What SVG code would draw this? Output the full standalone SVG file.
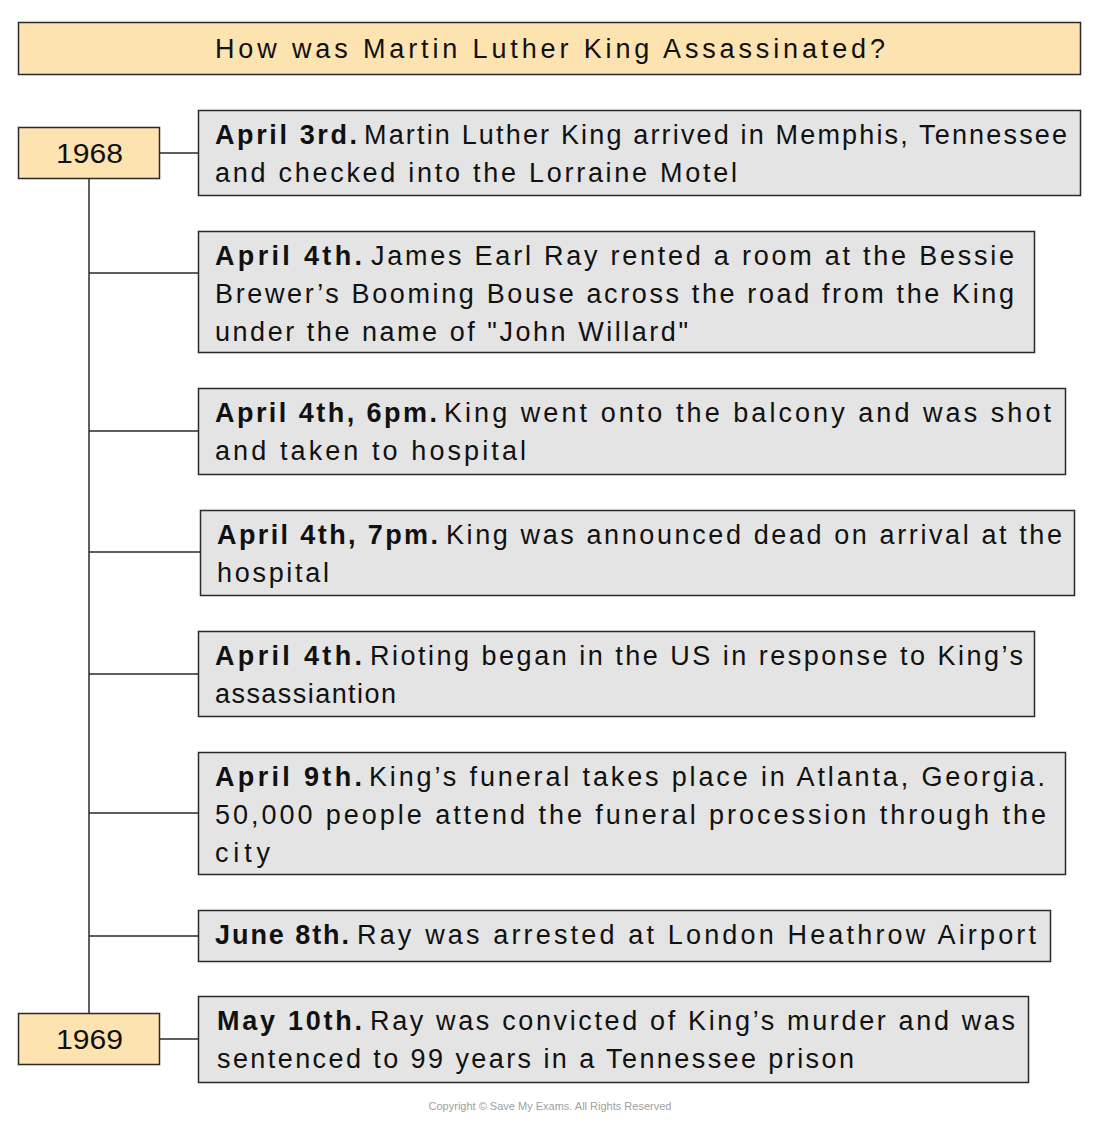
<svg xmlns="http://www.w3.org/2000/svg" width="1100" height="1126" viewBox="0 0 1100 1126">
<style>
.bg{fill:#ffffff}
.hdr{fill:#fde3b0;stroke:#2a2a2a;stroke-width:1.5}
.evt{fill:#e4e4e4;stroke:#2a2a2a;stroke-width:1.5}
.ln{stroke:#2a2a2a;stroke-width:1.5;fill:none}
text{font-family:"Liberation Sans","Noto Sans",sans-serif;fill:#111}
.t{font-size:27px}
.b{font-size:27px;font-weight:bold}
.title{font-size:27px}
.yr{font-size:27px}
.cp{font-size:11px;fill:#a0a0a0}
</style>
<rect class="bg" x="0" y="0" width="1100" height="1126"/>

<g id="title">
<rect class="hdr" x="18.5" y="22.5" width="1062" height="52"/>
<text class="title" x="215" y="58" textLength="670" lengthAdjust="spacing">How was Martin Luther King Assassinated?</text>
</g>

<g id="connectors">
<line class="ln" x1="89" y1="179" x2="89" y2="1013"/>
<line class="ln" x1="160" y1="153" x2="198" y2="153"/>
<line class="ln" x1="89" y1="273" x2="198" y2="273"/>
<line class="ln" x1="89" y1="431" x2="198" y2="431"/>
<line class="ln" x1="89" y1="552" x2="200" y2="552"/>
<line class="ln" x1="89" y1="674" x2="198" y2="674"/>
<line class="ln" x1="89" y1="813" x2="198" y2="813"/>
<line class="ln" x1="89" y1="936" x2="198" y2="936"/>
<line class="ln" x1="160" y1="1039" x2="198" y2="1039"/>
</g>

<g id="year1968">
<rect class="hdr" x="18.5" y="127.5" width="141" height="51"/>
<text class="yr" x="56" y="163" textLength="67" lengthAdjust="spacingAndGlyphs">1968</text>
</g>

<g id="year1969">
<rect class="hdr" x="18.5" y="1013.5" width="141" height="51"/>
<text class="yr" x="56" y="1049" textLength="67" lengthAdjust="spacingAndGlyphs">1969</text>
</g>

<g id="event1">
<rect class="evt" x="198.5" y="110.5" width="882" height="85"/>
<text class="b" x="215" y="144" textLength="142" lengthAdjust="spacing">April 3rd.</text>
<text class="t" x="364" y="144" textLength="703" lengthAdjust="spacing">Martin Luther King arrived in Memphis, Tennessee</text>
<text class="t" x="215" y="182" textLength="522" lengthAdjust="spacing">and checked into the Lorraine Motel</text>
</g>

<g id="event2">
<rect class="evt" x="198.5" y="231.5" width="836" height="121"/>
<text class="b" x="215" y="265" textLength="147" lengthAdjust="spacing">April 4th.</text>
<text class="t" x="371" y="265" textLength="643" lengthAdjust="spacing">James Earl Ray rented a room at the Bessie</text>
<text class="t" x="215" y="303" textLength="799" lengthAdjust="spacing">Brewer’s Booming Bouse across the road from the King</text>
<text class="t" x="215" y="341" textLength="473" lengthAdjust="spacing">under the name of "John Willard"</text>
</g>

<g id="event3">
<rect class="evt" x="198.5" y="388.5" width="867" height="86"/>
<text class="b" x="215" y="422" textLength="222" lengthAdjust="spacing">April 4th, 6pm.</text>
<text class="t" x="444" y="422" textLength="607" lengthAdjust="spacing">King went onto the balcony and was shot</text>
<text class="t" x="215" y="460" textLength="311" lengthAdjust="spacing">and taken to hospital</text>
</g>

<g id="event4">
<rect class="evt" x="200.5" y="510.5" width="874" height="85"/>
<text class="b" x="217" y="544" textLength="221" lengthAdjust="spacing">April 4th, 7pm.</text>
<text class="t" x="446" y="544" textLength="616" lengthAdjust="spacing">King was announced dead on arrival at the</text>
<text class="t" x="217" y="582" textLength="112" lengthAdjust="spacing">hospital</text>
</g>

<g id="event5">
<rect class="evt" x="198.5" y="631.5" width="836" height="85"/>
<text class="b" x="215" y="665" textLength="147" lengthAdjust="spacing">April 4th.</text>
<text class="t" x="370" y="665" textLength="653" lengthAdjust="spacing">Rioting began in the US in response to King’s</text>
<text class="t" x="215" y="703" textLength="181" lengthAdjust="spacing">assassiantion</text>
</g>

<g id="event6">
<rect class="evt" x="198.5" y="752.5" width="867" height="122"/>
<text class="b" x="215" y="786" textLength="147" lengthAdjust="spacing">April 9th.</text>
<text class="t" x="369" y="786" textLength="676" lengthAdjust="spacing">King’s funeral takes place in Atlanta, Georgia.</text>
<text class="t" x="215" y="824" textLength="831" lengthAdjust="spacing">50,000 people attend the funeral procession through the</text>
<text class="t" x="215" y="862" textLength="55" lengthAdjust="spacing">city</text>
</g>

<g id="event7">
<rect class="evt" x="198.5" y="910.5" width="852" height="51"/>
<text class="b" x="215" y="944" textLength="134" lengthAdjust="spacing">June 8th.</text>
<text class="t" x="357" y="944" textLength="679" lengthAdjust="spacing">Ray was arrested at London Heathrow Airport</text>
</g>

<g id="event8">
<rect class="evt" x="198.5" y="996.5" width="830" height="86"/>
<text class="b" x="217" y="1030" textLength="145" lengthAdjust="spacing">May 10th.</text>
<text class="t" x="370" y="1030" textLength="645" lengthAdjust="spacing">Ray was convicted of King’s murder and was</text>
<text class="t" x="217" y="1068" textLength="637" lengthAdjust="spacing">sentenced to 99 years in a Tennessee prison</text>
</g>

<text class="cp" x="550" y="1110" text-anchor="middle">Copyright © Save My Exams. All Rights Reserved</text>
</svg>
